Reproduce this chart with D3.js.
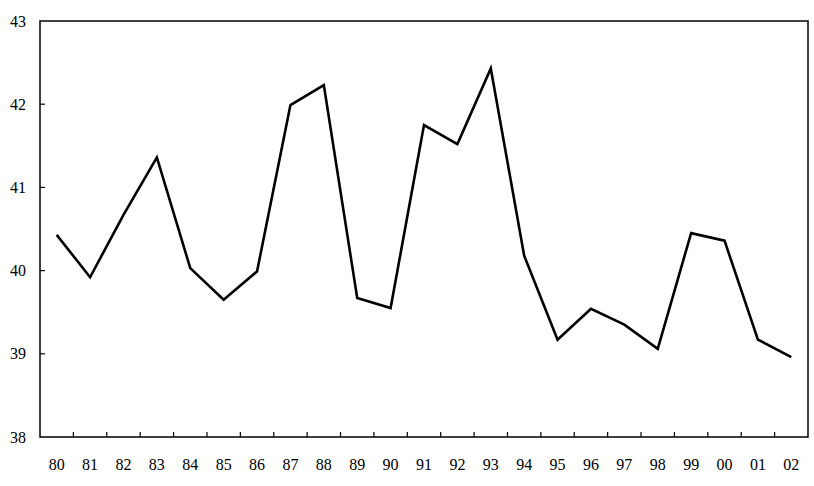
<!DOCTYPE html>
<html>
<head>
<meta charset="utf-8">
<script src="https://cdn.jsdelivr.net/npm/d3@7"></script>
<style>
  body { margin: 0; background: #fff; }
  text { font-family: "Liberation Serif", "Times New Roman", serif; font-size: 16px; fill: #000; }
</style>
</head>
<body>
<div id="chart"></div>
<script>
var years = ['80', '81', '82', '83', '84', '85', '86', '87', '88', '89', '90', '91',
    '92', '93', '94', '95', '96', '97', '98', '99', '00', '01', '02'];
var values = [40.43, 39.92, 40.67, 41.36, 40.03, 39.65, 39.99, 41.99, 42.23, 39.67, 39.55, 41.75,
    41.52, 42.43, 40.18, 39.17, 39.54, 39.35, 39.06, 40.45, 40.36, 39.17, 38.96];
var y_ticks = [38, 39, 40, 41, 42, 43];

var chart_width = 814;
var chart_height = 486;
var plot_left = 40, plot_right = 808, plot_top = 21, plot_bottom = 437;

var svg = d3.select('#chart')
    .append('svg')
    .attr('width', chart_width)
    .attr('height', chart_height);

// escalas
var x_scale = d3.scaleBand()
    .domain(years)
    .range([plot_left, plot_right]);

var y_scale = d3.scaleLinear()
    .domain([38, 43])
    .range([plot_bottom, plot_top]);

// moldura
svg.append('rect')
    .attr('x', plot_left)
    .attr('y', plot_top)
    .attr('width', plot_right - plot_left)
    .attr('height', plot_bottom - plot_top)
    .attr('fill', 'none')
    .attr('stroke', '#000')
    .attr('stroke-width', 1.5);

// marcas do eixo x (entre categorias)
svg.selectAll('.xtick')
    .data(years.slice(1))
    .enter()
    .append('line')
    .attr('x1', function (d) { return x_scale(d); })
    .attr('x2', function (d) { return x_scale(d); })
    .attr('y1', plot_bottom)
    .attr('y2', plot_bottom - 5)
    .attr('stroke', '#000')
    .attr('stroke-width', 1.2);

svg.selectAll('.xlabel')
    .data(years)
    .enter()
    .append('text')
    .attr('x', function (d) { return x_scale(d) + x_scale.bandwidth() / 2; })
    .attr('y', 470)
    .attr('text-anchor', 'middle')
    .text(function (d) { return d; });

// marcas do eixo y
svg.selectAll('.ytick')
    .data(y_ticks.slice(1, -1))
    .enter()
    .append('line')
    .attr('x1', plot_left)
    .attr('x2', plot_left + 5)
    .attr('y1', function (d) { return y_scale(d); })
    .attr('y2', function (d) { return y_scale(d); })
    .attr('stroke', '#000')
    .attr('stroke-width', 1.2);

svg.selectAll('.ylabel')
    .data(y_ticks)
    .enter()
    .append('text')
    .attr('x', 26)
    .attr('y', function (d) { return y_scale(d); })
    .attr('dy', '0.35em')
    .attr('text-anchor', 'end')
    .text(function (d) { return d; });

// linha
var line = d3.line()
    .x(function (d, i) { return x_scale(years[i]) + x_scale.bandwidth() / 2; })
    .y(function (d) { return y_scale(d); });

svg.append('path')
    .datum(values)
    .attr('d', line)
    .attr('fill', 'none')
    .attr('stroke', '#000')
    .attr('stroke-width', 2.6)
    .attr('stroke-linejoin', 'miter');
</script>
</body>
</html>
